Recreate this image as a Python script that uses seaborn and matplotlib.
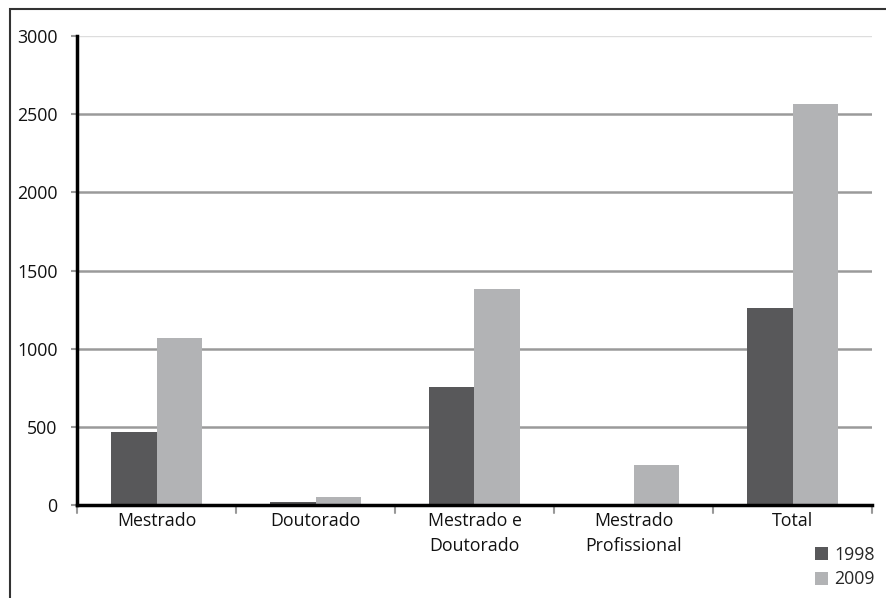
import matplotlib
matplotlib.use("Agg")
import matplotlib.pyplot as plt
import seaborn as sns
import pandas as pd
from matplotlib.patches import Rectangle, Patch

categories = ["Mestrado", "Doutorado", "Mestrado e\nDoutorado", "Mestrado\nProfissional", "Total"]
years = ["1998", "2009"]
values_1998 = [467, 22, 755, 0, 1262]
values_2009 = [1068, 48, 1380, 256, 2565]
yticks = [0, 500, 1000, 1500, 2000, 2500, 3000]

df = pd.DataFrame({
    "categoria": categories * 2,
    "ano": [years[0]] * len(categories) + [years[1]] * len(categories),
    "valor": values_1998 + values_2009,
})

sns.set_theme(style="white")
plt.rcParams["font.family"] = ["Open Sans", "DejaVu Sans"]

W, H = 887, 598
fig = plt.figure(figsize=(W / 100, H / 100), dpi=100)
ax = fig.add_axes([77 / W, (H - 505) / H, (872 - 77) / W, (505 - 36) / H])

colors = {"1998": "#58585a", "2009": "#b2b3b5"}
sns.barplot(data=df, x="categoria", y="valor", hue="ano", palette=colors,
            width=0.575, gap=0, saturation=1, ax=ax, legend=False,
            edgecolor="none", linewidth=0)

FS = 12.8
ax.set_ylim(0, 3000)
ax.set_xlim(-0.5, len(categories) - 0.5)
ax.set_yticks(yticks)
ax.set_yticklabels([str(v) for v in yticks], fontsize=FS, color="#111111")
ax.set_xlabel("")
ax.set_ylabel("")
for lbl in ax.get_xticklabels():
    lbl.set_linespacing(1.5)
ax.tick_params(axis="x", length=0, labelsize=FS, pad=5, colors="#111111")
ax.tick_params(axis="y", length=4, width=1.5, color="#999999", pad=10, left=True)

for v in yticks[1:]:
    ax.axhline(v, color="#dddddd" if v == 3000 else "#9a9a9a",
               lw=1.0 if v == 3000 else 1.8, zorder=0)

for s in ["top", "right"]:
    ax.spines[s].set_visible(False)
ax.spines["left"].set_color("black")
ax.spines["left"].set_linewidth(2.5)
ax.spines["bottom"].set_color("black")
ax.spines["bottom"].set_linewidth(2.5)

# category boundary ticks
for b in [i - 0.5 for i in range(len(categories) + 1)]:
    ax.plot([b, b], [0, -0.017], transform=ax.get_xaxis_transform(),
            color="#999999", lw=1.5, clip_on=False)

# outer frame
fig.patches.append(Rectangle((10 / W, -0.1), 1.2, (H - 9) / H + 0.1,
                             transform=fig.transFigure, fill=False,
                             edgecolor="#333333", lw=1.5))

handles = [Patch(facecolor=colors[y], edgecolor="none", label=y) for y in years]
fig.legend(handles=handles, loc="upper left", bbox_to_anchor=(815 / W, (H - 546) / H),
           frameon=False, fontsize=FS, handlelength=0.75, handleheight=0.75,
           handletextpad=0.35, labelspacing=0.35, borderaxespad=0, borderpad=0)

fig.savefig("out.png", dpi=100)
